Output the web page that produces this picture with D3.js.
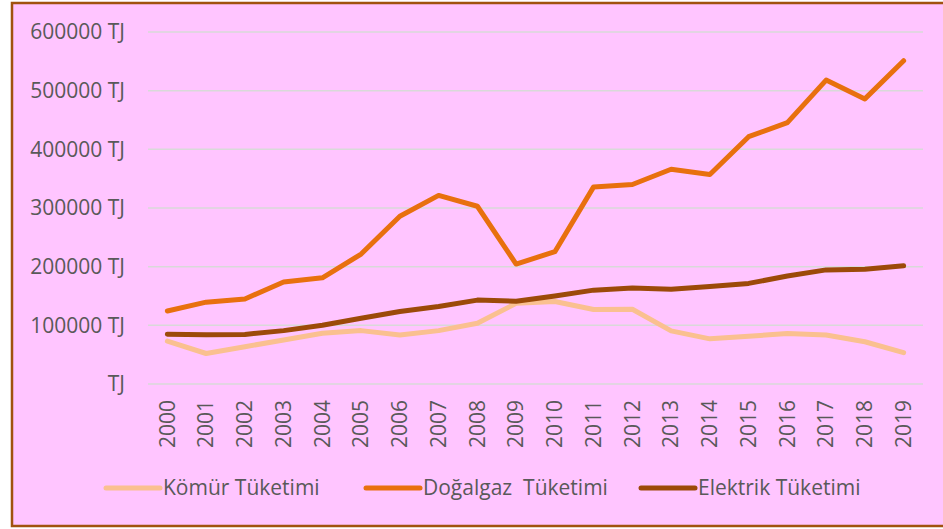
<!DOCTYPE html>
<html>
<head>
<meta charset="utf-8">
<script src="https://cdn.jsdelivr.net/npm/d3@7"></script>
<style>
  html, body { margin: 0; padding: 0; background: #ffffff; }
  svg { display: block; }
  text { font-family: "Open Sans", sans-serif; fill: #595959; }
</style>
</head>
<body>
<svg id="chart" width="943" height="529"></svg>
<script>
// Yearly energy consumption in Turkey by source (TJ)
const years = ["2000","2001","2002","2003","2004","2005","2006","2007","2008","2009",
               "2010","2011","2012","2013","2014","2015","2016","2017","2018","2019"];

const komur = [73000, 52000, 63500, 75000, 86500, 91000, 83500, 91000, 103500, 137500,
               140500, 127000, 127500, 90500, 77000, 81500, 86000, 83500, 72000, 53500];

const dogalgaz = [124500, 139500, 145000, 174000, 181000, 221500, 286000, 321500, 303000, 204500,
                  225500, 336000, 340000, 366000, 357000, 421500, 445500, 518000, 486000, 551000];

const elektrik = [85000, 84000, 84500, 91000, 100000, 112000, 123500, 132000, 143000, 141000,
                  150000, 160000, 163500, 161500, 166000, 171500, 184000, 194500, 195500, 201500];

const yTicks = [0, 100000, 200000, 300000, 400000, 500000, 600000];

const seriesNames = ["Kömür Tüketimi", "Doğalgaz  Tüketimi", "Elektrik Tüketimi"];
const seriesColors = ["#FAC090", "#E8700E", "#9C4A09"];
const seriesData = [komur, dogalgaz, elektrik];

const svg = d3.select("#chart");

// chart area background and frame
svg.append("rect")
  .attr("x", 12).attr("y", 3)
  .attr("width", 960).attr("height", 523)
  .attr("fill", "#FFC5FF")
  .attr("stroke", "#A0520F")
  .attr("stroke-width", 2.5);

const x = d3.scaleBand().domain(years).range([148, 923]);
const y = d3.scaleLinear().domain([0, 600000]).range([384, 32]);

// horizontal gridlines
svg.append("g")
  .selectAll("line")
  .data(yTicks)
  .join("line")
  .attr("x1", 148).attr("x2", 923)
  .attr("y1", d => y(d)).attr("y2", d => y(d))
  .attr("stroke", "#D9D9D9")
  .attr("stroke-width", 1.5);

// y axis labels
const yAxis = d3.axisLeft(y)
  .tickValues(yTicks)
  .tickSize(0)
  .tickPadding(0)
  .tickFormat(d => (d === 0 ? "" : d) + " TJ");

const gy = svg.append("g")
  .attr("transform", "translate(125,0)")
  .call(yAxis);
gy.select(".domain").remove();
gy.selectAll("text")
  .attr("font-size", 21)
  .attr("font-family", "Open Sans, sans-serif")
  .attr("fill", "#595959")
  .style("white-space", "pre");

// x axis labels (rotated years)
const xAxis = d3.axisBottom(x).tickSize(0).tickPadding(0);
const gx = svg.append("g")
  .attr("transform", "translate(0,400)")
  .call(xAxis);
gx.select(".domain").remove();
gx.selectAll("text")
  .attr("font-size", 21)
  .attr("font-family", "Open Sans, sans-serif")
  .attr("fill", "#595959")
  .attr("transform", "rotate(-90)")
  .attr("text-anchor", "end")
  .attr("x", 0)
  .attr("y", 0)
  .attr("dy", "0.35em");

// series lines
const line = d3.line()
  .x((d, i) => x(years[i]) + x.bandwidth() / 2)
  .y(d => y(d));

svg.append("g")
  .selectAll("path")
  .data(seriesData)
  .join("path")
  .attr("d", d => line(d))
  .attr("fill", "none")
  .attr("stroke", (d, i) => seriesColors[i])
  .attr("stroke-width", 5)
  .attr("stroke-linejoin", "round")
  .attr("stroke-linecap", "round");

// legend
const legendX = [106, 366, 641];
const legend = svg.append("g")
  .selectAll("g")
  .data(seriesNames)
  .join("g")
  .attr("transform", (d, i) => `translate(${legendX[i]},488)`);

legend.append("line")
  .attr("x1", 0).attr("x2", 54)
  .attr("y1", 0).attr("y2", 0)
  .attr("stroke", (d, i) => seriesColors[i])
  .attr("stroke-width", 5)
  .attr("stroke-linecap", "round");

legend.append("text")
  .attr("x", 57)
  .attr("y", 0)
  .attr("dy", "0.35em")
  .attr("font-size", 21)
  .style("white-space", "pre")
  .text(d => d);
</script>
</body>
</html>
